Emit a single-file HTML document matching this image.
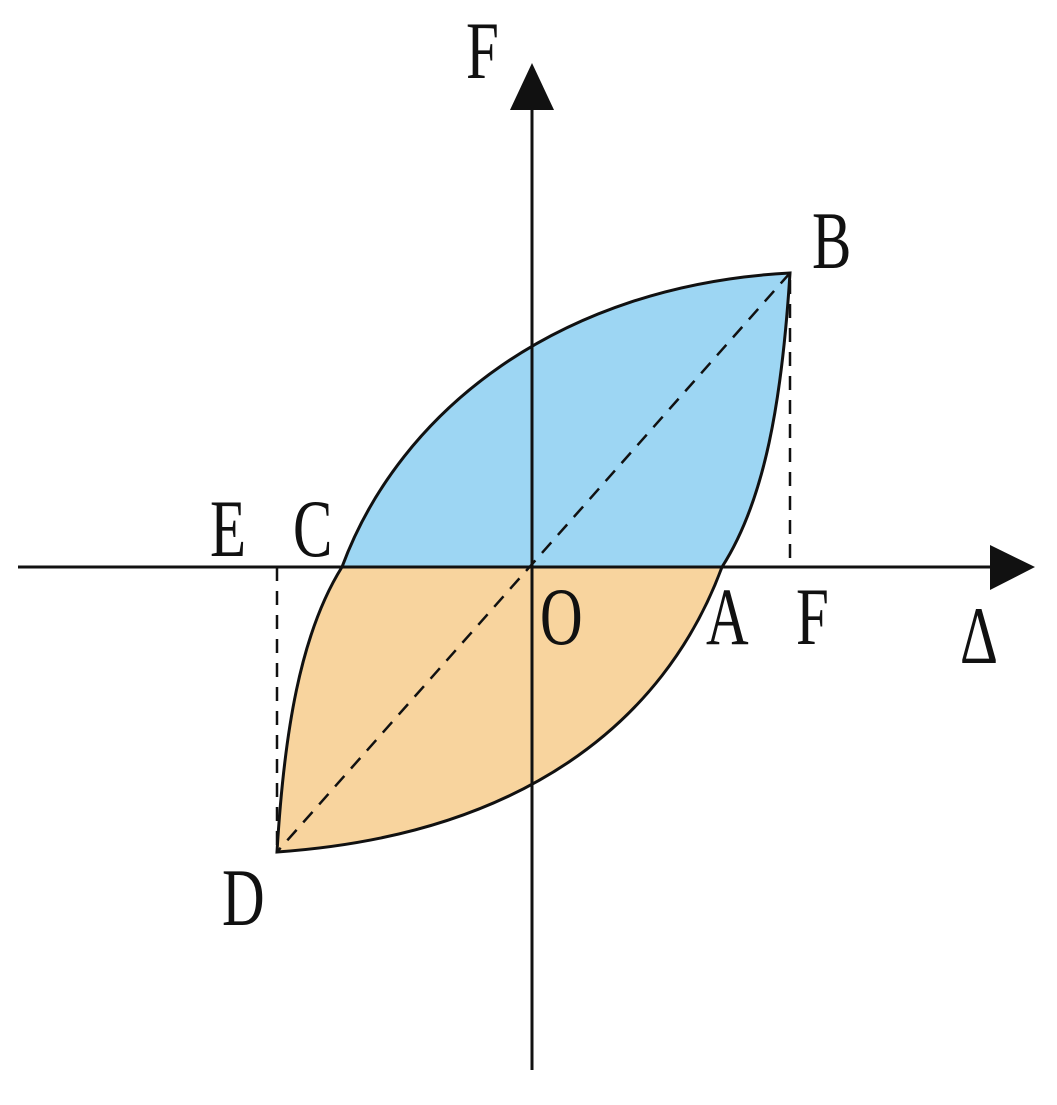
<!DOCTYPE html>
<html><head><style>html,body{margin:0;padding:0;background:#fff}svg{display:block}</style></head>
<body>
<svg width="1057" height="1105" viewBox="0 0 1057 1105" xmlns="http://www.w3.org/2000/svg">
<defs>
<path id="leaf" d="M342,567 C400,410 560,285 790,273 C782,400 765,500 722,567 C664,724 520,835 277,852 C284,734 300,634 342,567 Z"/>
<clipPath id="top"><rect x="0" y="0" width="1057" height="567"/></clipPath>
<clipPath id="bot"><rect x="0" y="567" width="1057" height="600"/></clipPath>
</defs>
<use href="#leaf" fill="#9dd6f3" clip-path="url(#top)"/>
<use href="#leaf" fill="#f8d49e" clip-path="url(#bot)"/>
<use href="#leaf" fill="none" stroke="#111" stroke-width="3"/>
<g stroke="#111" stroke-width="2.5" stroke-dasharray="14,10" fill="none">
<line x1="790" y1="273" x2="277" y2="852"/>
<line x1="790" y1="280" x2="790" y2="567"/>
<line x1="277" y1="567" x2="277" y2="850"/>
</g>
<g stroke="#111" stroke-width="3">
<line x1="18" y1="567" x2="1000" y2="567"/>
<line x1="532" y1="1070" x2="532" y2="100"/>
</g>
<polygon points="990,545 1035,567 990,590" fill="#111"/>
<polygon points="510,110 532,63 554,110" fill="#111"/>
<g font-family="'Liberation Serif', serif" font-size="82" fill="#111">
<text transform="translate(466,78) scale(0.72,1)">F</text>
<text transform="translate(812,268) scale(0.72,1)">B</text>
<text transform="translate(210,556) scale(0.72,1)">E</text>
<text transform="translate(293,556) scale(0.72,1)">C</text>
<text transform="translate(540,644) scale(0.72,1)">O</text>
<text transform="translate(706,644) scale(0.72,1)">A</text>
<text transform="translate(796,644) scale(0.72,1)">F</text>
<text transform="translate(960,663) scale(0.72,1)">Δ</text>
<text transform="translate(222,925) scale(0.72,1)">D</text>
</g>
</svg>
</body></html>
